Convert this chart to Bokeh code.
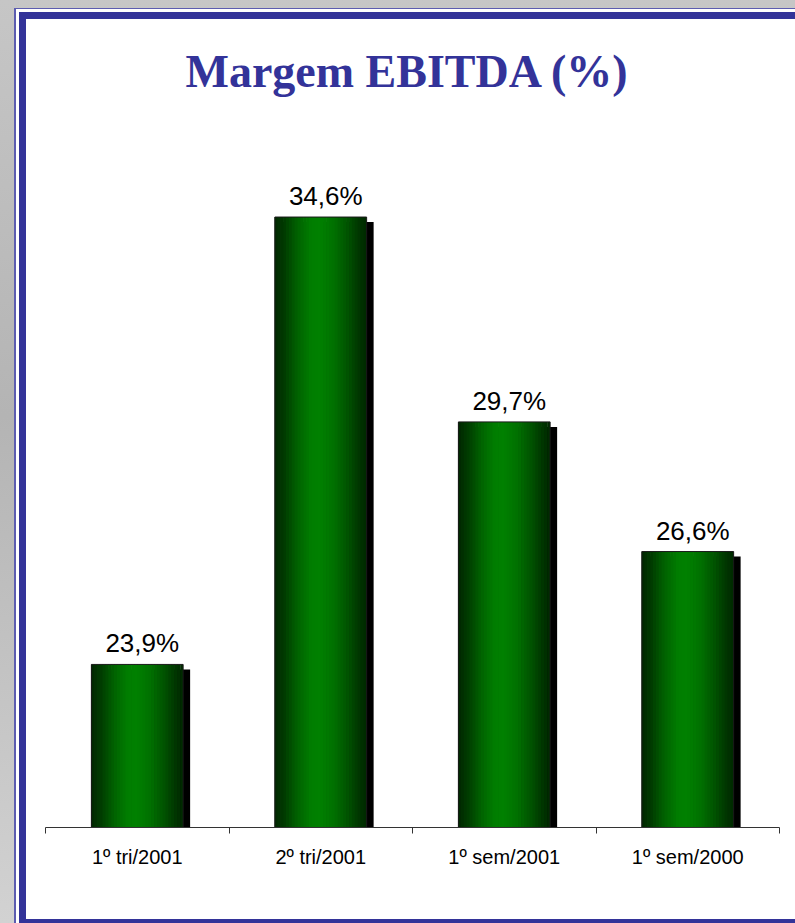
from bokeh.plotting import figure
from bokeh.models import Range1d, FixedTicker
from bokeh.embed import file_html
from bokeh.resources import INLINE
from bokeh.core.properties import value

# ---- data ----
categories = ["1º tri/2001", "2º tri/2001", "1º sem/2001", "1º sem/2000"]
margins = [23.9, 34.6, 29.7, 26.6]
title_text = "Margem EBITDA (%)"
y_start, y_end = 20, 36

# ---- geometry ----
W, H = 795, 923
ML, MR, MT, MB = 45, 16, 158, 96
frame_w = W - ML - MR
frame_h = H - MT - MB
n = len(categories)
px_x = frame_w / n                  # px per x unit
px_y = frame_h / (y_end - y_start)  # px per y unit

p = figure(width=W, height=H, output_backend="svg", toolbar_location=None,
           x_range=Range1d(0, n), y_range=Range1d(y_start, y_end),
           min_border_left=ML, min_border_right=MR,
           min_border_top=MT, min_border_bottom=MB)
p.background_fill_color = None
p.border_fill_color = None
p.outline_line_color = None
p.grid.visible = False
p.yaxis.visible = False

# page decoration: grey backdrop + double blue frame (CSS background layers)
solid = lambda c: "linear-gradient(%s,%s)" % (c, c)
p.styles = {
    "background": ", ".join([
        solid("#ffffff") + " 26px 19px / 100% 900px no-repeat",
        solid("#333399") + " 19px 12px / 100% 100% no-repeat",
        solid("#ffffff") + " 16px 9px / 100% 100% no-repeat",
        solid("#5c5cb0") + " 14px 8px / 100% 100% no-repeat",
        "linear-gradient(to bottom, #c6c6c6, #b4b4b4 45%, #d2d2d2)",
    ])
}

# title (a trailing blank line lifts it away from the plot area)
p.title.text = title_text + "\n "
p.title.align = "left"
p.title.offset = 140
p.title.text_font = "Liberation Serif"
p.title.text_font_style = "bold"
p.title.text_font_size = "46px"
p.title.text_color = "#333399"
p.title.standoff = 22

centers = [i + 0.5 for i in range(n)]
bar_w = 0.5

# shadow
p.vbar(x=[c + 7 / px_x for c in centers], top=[v - 5 / px_y for v in margins],
       bottom=y_start, width=bar_w, fill_color="black", line_color=None)

# gradient stripes (cylinder look)
anchors = [(0.0, 38), (0.1, 58), (0.25, 98), (0.4, 126), (0.5, 128),
           (0.65, 112), (0.8, 82), (0.93, 52), (1.0, 40)]

def green(t):
    for (t0, g0), (t1, g1) in zip(anchors[:-1], anchors[1:]):
        if t0 <= t <= t1:
            return g0 + (g1 - g0) * (t - t0) / (t1 - t0)
    return anchors[-1][1]

NS = 32
sw = bar_w / NS
for k in range(NS):
    t = (k + 0.5) / NS
    g = int(round(green(t)))
    col = "#%02x%02x%02x" % (0, g, 0)
    p.vbar(x=[c - bar_w / 2 + (k + 0.5) * sw for c in centers], top=margins,
           bottom=y_start, width=sw * 1.25 if k < NS - 1 else sw,
           fill_color=col, line_color=None)

# outline
p.vbar(x=centers, top=margins, bottom=y_start, width=bar_w,
       fill_color=None, line_color="#1a1a1a", line_width=1)

# value labels
labels = [("%.1f%%" % v).replace(".", ",") for v in margins]
p.text(x=centers, y=[v + 6 / px_y for v in margins], text=labels,
       text_align="center", text_baseline="bottom", x_offset=5,
       text_font=value("Liberation Sans"), text_font_size="26px",
       text_color="black")

# axis
ax = p.xaxis[0]
ax.ticker = FixedTicker(ticks=centers, minor_ticks=list(range(n + 1)))
ax.major_label_overrides = {c: cat for c, cat in zip(centers, categories)}
ax.major_tick_line_color = None
ax.major_tick_in = 0
ax.major_tick_out = 0
ax.minor_tick_in = 0
ax.minor_tick_out = 6
ax.minor_tick_line_color = "#333333"
ax.axis_line_color = "#333333"
ax.major_label_standoff = 12
ax.major_label_text_font = "Liberation Sans"
ax.major_label_text_font_size = "20px"
ax.major_label_text_color = "black"

open("out.html", "w").write(file_html(p, INLINE))
